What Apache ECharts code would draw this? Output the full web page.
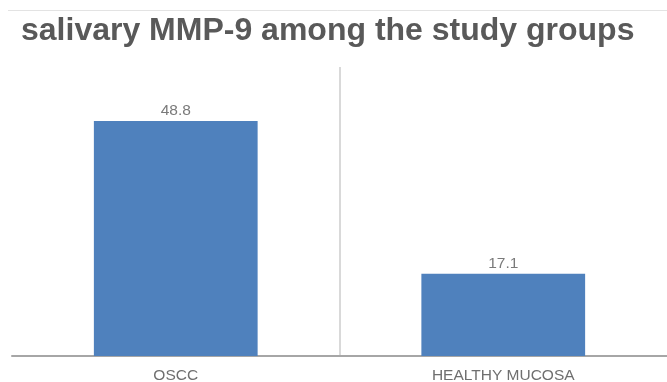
<!DOCTYPE html>
<html>
<head>
<meta charset="utf-8">
<script src="https://cdn.jsdelivr.net/npm/echarts@6/dist/echarts.min.js"></script>
<style>
  html, body { margin: 0; padding: 0; background: #fff; }
  #chart { width: 667px; height: 382px; }
</style>
</head>
<body>
<div id="chart"></div>
<script>
// groups and mean salivary MMP-9
var groups = ['OSCC', 'HEALTHY MUCOSA'];
var mmp9 = [48.8, 17.1];

var myChart = echarts.init(document.getElementById('chart'));
var option = {
    backgroundColor: '#fff',
    animation: false,
    title: {
        text: 'salivary MMP-9 among the study groups',
        left: 16,
        top: 10,
        textStyle: {
            fontFamily: 'Liberation Sans, Arial, sans-serif',
            fontSize: 32,
            fontWeight: 'bold',
            color: '#595959'
        }
    },
    graphic: [{
        type: 'line',
        shape: { x1: 8, y1: 10.5, x2: 667, y2: 10.5 },
        style: { stroke: '#e3e3e3', lineWidth: 1 }
    }],
    grid: {
        left: 12, right: 0, top: 67, bottom: 26,
        containLabel: false,
        outerBoundsMode: 'none'
    },
    xAxis: {
        type: 'category',
        data: groups,
        axisTick: { show: false },
        axisLine: { lineStyle: { color: '#a6a6a6', width: 2 } },
        axisLabel: {
            color: '#6f6f6f',
            fontFamily: 'Liberation Sans, Arial, sans-serif',
            fontSize: 15.5,
            margin: 12
        },
        splitLine: {
            show: true,
            // only the boundary between the two groups is visible
            lineStyle: { color: ['rgba(0,0,0,0)', '#d9d9d9', 'rgba(0,0,0,0)'], width: 2 }
        }
    },
    yAxis: {
        type: 'value',
        min: 0,
        max: 60,
        show: false
    },
    series: [{
        type: 'bar',
        data: mmp9,
        barWidth: '50%',
        itemStyle: { color: '#4F81BD' },
        label: {
            show: true,
            position: 'top',
            distance: 2,
            color: '#7a7a7a',
            fontFamily: 'Liberation Sans, Arial, sans-serif',
            fontSize: 15.5
        }
    }]
};
myChart.setOption(option);
window.addEventListener('resize', function () {
    myChart.resize();
});
</script>
</body>
</html>
